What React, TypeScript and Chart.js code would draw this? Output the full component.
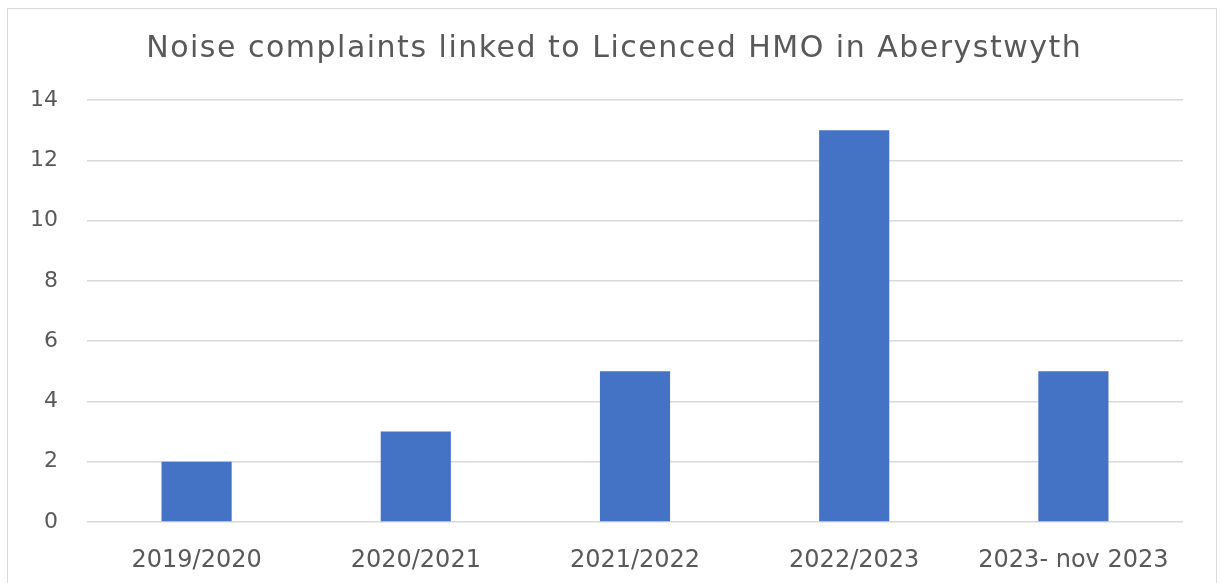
import React, { useEffect, useRef } from "react";
import { Chart, registerables } from "chart.js";

Chart.register(...registerables);

const categories = ["2019/2020", "2020/2021", "2021/2022", "2022/2023", "2023- nov 2023"];
const complaints = [2, 3, 5, 13, 5];
const titleText = "Noise complaints linked to Licenced HMO in Aberystwyth";

const titlePlugin = {
  id: "spacedTitle",
  afterDraw(chart: any) {
    const ctx = chart.ctx as CanvasRenderingContext2D;
    ctx.save();
    (ctx as any).letterSpacing = "1.5px";
    ctx.font = "30px 'DejaVu Sans'";
    ctx.fillStyle = "#595959";
    ctx.textAlign = "left";
    ctx.textBaseline = "middle";
    const w = ctx.measureText(titleText).width - 1.5;
    ctx.fillText(titleText, 613.5 - w / 2, 49);
    ctx.restore();
  },
};

export default function App() {
  const ref = useRef<HTMLCanvasElement | null>(null);

  useEffect(() => {
    if (!ref.current) return;
    const chart = new Chart(ref.current, {
      type: "bar",
      data: {
        labels: categories,
        datasets: [
          {
            data: complaints,
            backgroundColor: "#4472C4",
            borderWidth: 0,
            categoryPercentage: 1,
            barPercentage: 0.32,
          },
        ],
      },
      options: {
        responsive: false,
        animation: false,
        layout: { padding: { top: 100, right: 37, bottom: 0, left: 0 } },
        plugins: {
          legend: { display: false },
          tooltip: { enabled: false },
          title: { display: false },
        },
        scales: {
          x: {
            grid: { display: false },
            border: { display: false },
            ticks: {
              color: "#595959",
              font: { family: "DejaVu Sans", size: 24 },
              padding: 16,
              maxRotation: 0,
              autoSkip: false,
            },
            afterFit: (s: any) => {
              s.height = 61;
            },
          },
          y: {
            min: 0,
            max: 14,
            grid: { color: "#d9d9d9", lineWidth: 1.5, drawTicks: false },
            border: { display: false },
            ticks: {
              stepSize: 2,
              color: "#595959",
              font: { family: "DejaVu Sans", size: 22 },
              padding: 29,
            },
            afterFit: (s: any) => {
              s.width = 87;
            },
          },
        },
      },
      plugins: [titlePlugin],
    });
    return () => chart.destroy();
  }, []);

  return (
    <div style={{ position: "fixed", left: 0, top: 0, width: 1220, height: 583, background: "#fff" }}>
      <div
        style={{
          position: "absolute",
          left: 7,
          top: 8,
          width: 1210,
          height: 590,
          border: "1.5px solid #d9d9d9",
          boxSizing: "border-box",
        }}
      />
      <canvas ref={ref} width={1220} height={583} style={{ position: "absolute", left: 0, top: 0 }} />
    </div>
  );
}
